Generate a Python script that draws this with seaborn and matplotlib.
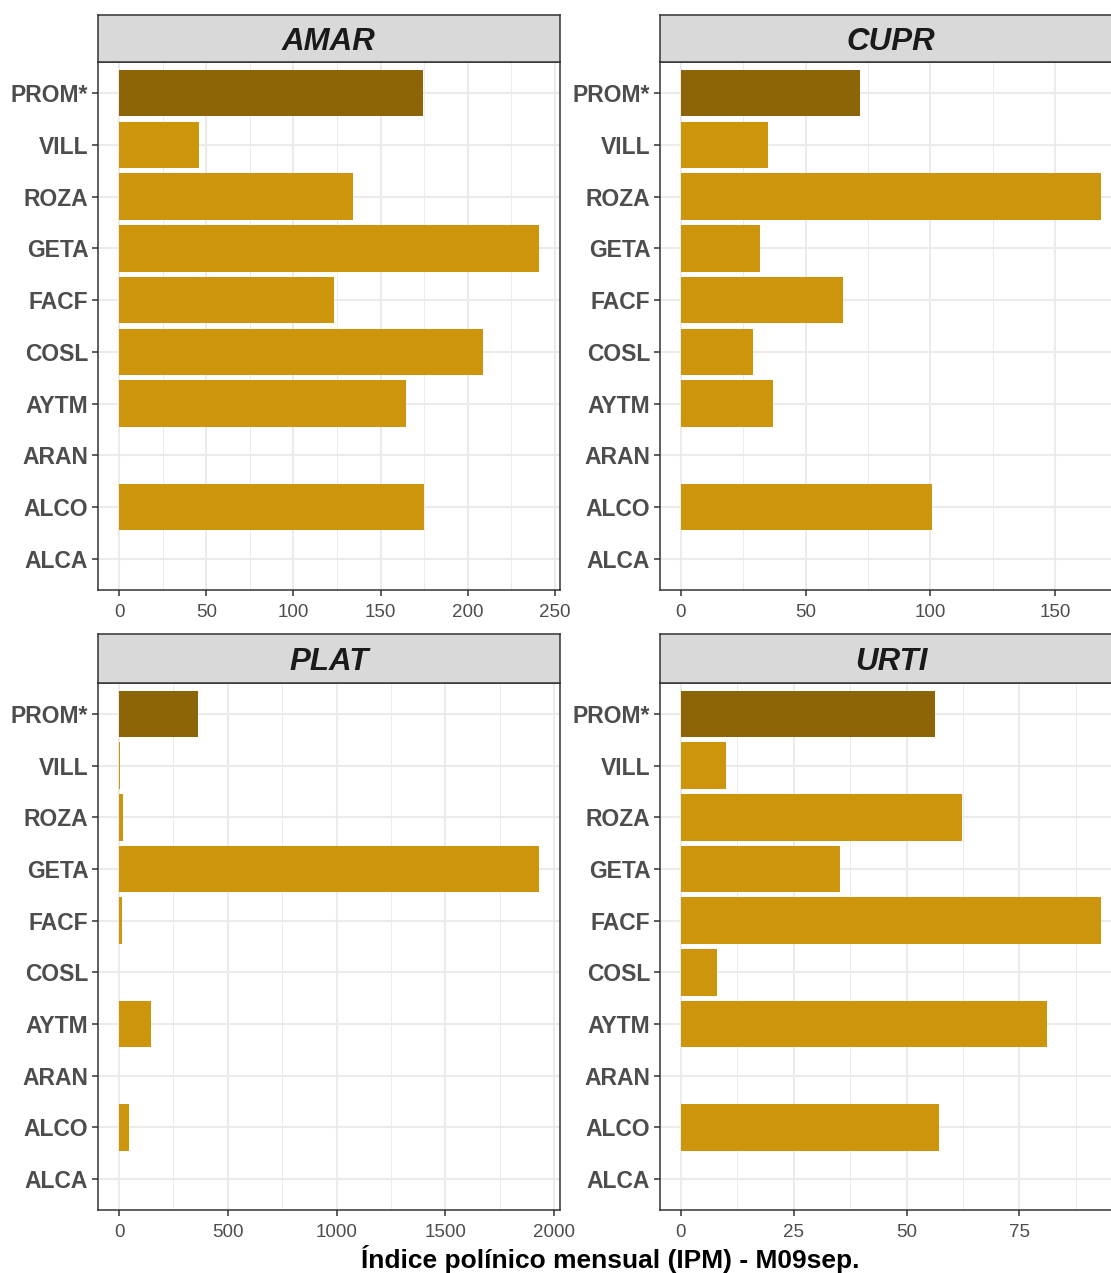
import numpy as np
import pandas as pd
import seaborn as sns
import matplotlib.pyplot as plt
from matplotlib.ticker import MultipleLocator

# site labels (top to bottom) and IPM per taxon
sites = ['PROM*', 'VILL', 'ROZA', 'GETA', 'FACF', 'COSL', 'AYTM', 'ARAN', 'ALCO', 'ALCA']
amar = [174.5, 45.8, 133.9, 240.8, 123.0, 208.8, 164.8, 0, 175.0, 0]
cupr = [71.6, 34.8, 168.4, 31.6, 64.8, 28.8, 36.8, 0, 100.8, 0]
plat = [362, 5, 19, 1931, 14, 0, 147, 0, 46, 0]
urti = [56.2, 10.0, 62.2, 35.2, 93.1, 8.0, 81.2, 0, 57.1, 0]

taxa = ['AMAR', 'CUPR', 'PLAT', 'URTI']
values = {'AMAR': amar, 'CUPR': cupr, 'PLAT': plat, 'URTI': urti}
ticks = {'AMAR': [0, 50, 100, 150, 200, 250],
         'CUPR': [0, 50, 100, 150],
         'PLAT': [0, 500, 1000, 1500, 2000],
         'URTI': [0, 25, 50, 75]}
minor = {'AMAR': 25, 'CUPR': 25, 'PLAT': 250, 'URTI': 12.5}

rows = []
for t in taxa:
    for s, v in zip(sites, values[t]):
        rows.append({'taxon': t, 'site': s, 'ipm': v,
                     'tipo': 'prom' if s == 'PROM*' else 'site'})
df = pd.DataFrame(rows)

pal = {'prom': '#8B6508', 'site': '#CD950C'}

sns.set_style('white')
plt.rcParams['font.family'] = ['Liberation Sans', 'DejaVu Sans']

W, H = 1111, 1273
fig = plt.figure(figsize=(W / 100, H / 100), dpi=100)

# panel boxes in pixels: (left, top of strip, top of panel, bottom of panel)
boxes = {'AMAR': (98, 15, 62, 590), 'CUPR': (660, 15, 62, 590),
         'PLAT': (98, 634, 683, 1210), 'URTI': (660, 634, 683, 1210)}
pw = 462

for t in taxa:
    x0, st, pt, pb = boxes[t]
    ax = fig.add_axes([x0 / W, 1 - pb / H, pw / W, (pb - pt) / H])
    sub = df[df.taxon == t]
    ax.set_axisbelow(True)
    sns.barplot(data=sub, x='ipm', y='site', hue='tipo', palette=pal, order=sites,
                orient='h', width=0.9, dodge=False, legend=False, errorbar=None,
                saturation=1, linewidth=0, ax=ax)
    mx = max(values[t])
    ax.set_xlim(-0.05 * mx, 1.05 * mx)
    ax.set_ylim(len(sites) - 0.4, -0.6)
    ax.set_xticks(ticks[t])
    ax.xaxis.set_minor_locator(MultipleLocator(minor[t]))
    ax.grid(True, which='major', color='#EBEBEB', lw=1.5)
    ax.grid(True, which='minor', axis='x', color='#EBEBEB', lw=0.7)
    ax.set_xlabel('')
    ax.set_ylabel('')
    ax.tick_params(axis='both', which='major', length=4, width=1.1, color='#333333',
                   direction='out', bottom=True, left=True, pad=3)
    ax.tick_params(axis='x', which='major', pad=6)
    ax.tick_params(axis='both', which='minor', length=0)
    for lab in ax.get_yticklabels():
        lab.set_fontsize(16.5)
        lab.set_fontweight('bold')
        lab.set_color('#4D4D4D')
    for lab in ax.get_xticklabels():
        lab.set_fontsize(13.5)
        lab.set_color('#4D4D4D')
    for sp in ax.spines.values():
        sp.set_visible(True)
        sp.set_color('#333333')
        sp.set_linewidth(1.1)

    # facet strip
    sx = fig.add_axes([x0 / W, 1 - pt / H, pw / W, (pt - st) / H])
    sx.set_facecolor('#D9D9D9')
    sx.set_xticks([])
    sx.set_yticks([])
    for sp in sx.spines.values():
        sp.set_color('#333333')
        sp.set_linewidth(1.1)
    cx = 0.5 if t in ('AMAR', 'PLAT') else (1122 - 660) / 2 / pw
    sx.text(cx, 0.42, t, transform=sx.transAxes, ha='center', va='center',
            fontsize=22.5, fontweight='bold', fontstyle='italic', color='#1A1A1A')

fig.text(610 / W, 1 - 1259 / H, 'Índice polínico mensual (IPM) - M09sep.',
         ha='center', va='center', fontsize=19, fontweight='bold', color='black')

fig.savefig('out.png', dpi=100)
